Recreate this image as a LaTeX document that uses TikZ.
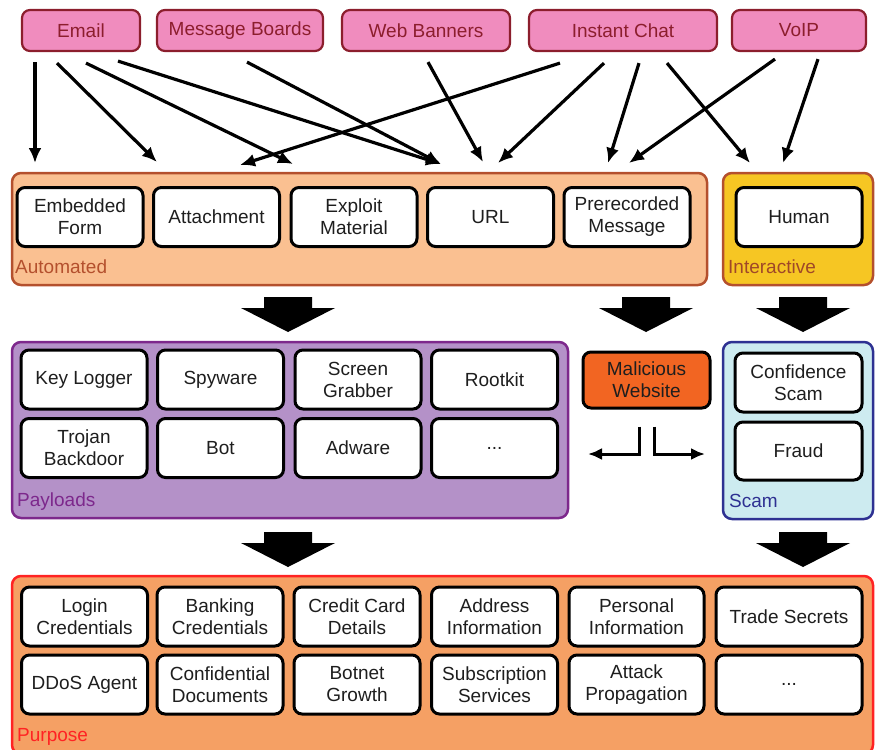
\documentclass[tikz,border=0pt]{standalone}
\usepackage{fontspec}
\setmainfont{Liberation Sans}
\usetikzlibrary{arrows.meta}
\definecolor{srcfill}{RGB}{240,140,190}
\definecolor{srcline}{RGB}{140,30,45}
\definecolor{autofill}{RGB}{250,192,145}
\definecolor{autoline}{RGB}{180,80,45}
\definecolor{interfill}{RGB}{246,198,35}
\definecolor{intertext}{RGB}{160,72,40}
\definecolor{payfill}{RGB}{180,145,200}
\definecolor{payline}{RGB}{125,40,140}
\definecolor{scamfill}{RGB}{205,235,240}
\definecolor{scamline}{RGB}{46,49,146}
\definecolor{purpfill}{RGB}{245,160,100}
\definecolor{purpline}{RGB}{255,35,35}
\definecolor{malfill}{RGB}{242,101,34}
\definecolor{itemtext}{RGB}{30,30,30}
\tikzset{
source/.style={draw=srcline, fill=srcfill, text=srcline, line width=2.2pt,
  rounded corners=8pt, minimum height=41pt, inner sep=0pt},
group/.style={line width=2.5pt, rounded corners=9pt, inner sep=0pt},
grouplabel/.style={anchor=base west, inner sep=0pt},
item/.style={draw=black, fill=white, text=itemtext, line width=3pt,
  rounded corners=8pt, minimum width=126pt, minimum height=59pt,
  inner sep=0pt, align=center},
feed/.style={line width=3.2pt, -{Latex[length=15pt,width=13pt]}},
branch/.style={line width=3pt, -{Latex[length=14pt,width=12pt]}},
bigdown/.pic={
  \fill (-24,0) -- (24,0) -- (24,11) -- (47,11) -- (0,35) -- (-47,11) -- (-24,11) -- cycle;
  }
}
\begin{document}
\begin{tikzpicture}[x=1pt, y=-1pt, font=\fontsize{19}{22}\selectfont]
\useasboundingbox (0,0) rectangle (879,750);
% channels
\node[source, minimum width=118pt] (email) at (81,30.5) {Email};
\node[source, minimum width=166pt] (boards) at (240,30.5) {Message Boards};
\node[source, minimum width=168pt] (banners) at (426,30.5) {Web Banners};
\node[source, minimum width=188pt] (chat) at (623,30.5) {Instant Chat};
\node[source, minimum width=134pt] (voip) at (799,30.5) {VoIP};

% groups
\node[group, draw=autoline, fill=autofill, minimum width=695pt, minimum height=112pt] (automated) at (359.5,229) {};
\node[group, draw=autoline, fill=interfill, minimum width=150pt, minimum height=112pt] (interactive) at (798,229) {};
\node[group, draw=payline, fill=payfill, minimum width=556pt, minimum height=176pt] (payloads) at (290,430) {};
\node[group, draw=scamline, fill=scamfill, minimum width=150pt, minimum height=177pt] (scam) at (798,430.5) {};
\node[group, draw=purpline, fill=purpfill, minimum width=861pt, minimum height=178pt] (purpose) at (442.5,665) {};
\node[grouplabel, text=autoline] (autotxt) at (15,273) {Automated};
\node[grouplabel, text=intertext] (intertxt) at (728,273) {Interactive};
\node[grouplabel, text=payline] (paytxt) at (17,506) {Payloads};
\node[grouplabel, text=scamline] (scamtxt) at (729,507) {Scam};
\node[grouplabel, text=purpline] (purptxt) at (17,741) {Purpose};

% vectors
\node[item] (form) at (80,217) {Embedded\\Form};
\node[item] (attach) at (216.5,217) {Attachment};
\node[item] (exploit) at (354,217) {Exploit\\Material};
\node[item] (url) at (490.5,217) {URL};
\node[item] (prerec) at (627,217) {Prerecorded\\Message};
\node[item] (human) at (799,217) {Human};

% payloads
\node[item] (keylog) at (84,379.5) {Key Logger};
\node[item] (spyware) at (220.5,379.5) {Spyware};
\node[item] (screen) at (358,379.5) {Screen\\Grabber};
\node[item] (rootkit) at (494.5,379.5) {Rootkit};
\node[item] (trojan) at (84,448) {Trojan\\Backdoor};
\node[item] (bot) at (220.5,448) {Bot};
\node[item] (adware) at (358,448) {Adware};
\node[item] (paymore) at (494.5,448) {...};

\node[item, fill=malfill, minimum width=127pt, minimum height=56pt] (malicious) at (646.5,380) {Malicious\\Website};
\node[item, minimum width=127pt] (confidence) at (798.5,382.5) {Confidence\\Scam};
\node[item, minimum width=127pt, minimum height=58pt] (fraud) at (798.5,451) {Fraud};

% purposes
\node[item] (login) at (84.5,616.5) {Login\\Credentials};
\node[item] (banking) at (220,616.5) {Banking\\Credentials};
\node[item] (credit) at (357,616.5) {Credit Card\\Details};
\node[item] (address) at (494.5,616.5) {Address\\Information};
\node[item, minimum width=135pt] (personal) at (636.5,616.5) {Personal\\Information};
\node[item, minimum width=146pt] (trade) at (789,616.5) {Trade Secrets};
\node[item] (ddos) at (84.5,684.5) {DDoS Agent};
\node[item] (docs) at (220,684.5) {Confidential\\Documents};
\node[item] (botnet) at (357,684.5) {Botnet\\Growth};
\node[item] (subscr) at (494.5,684.5) {Subscription\\Services};
\node[item, minimum width=135pt] (attack) at (636.5,684.5) {Attack\\Propagation};
\node[item, minimum width=146pt] (purpmore) at (789,684.5) {...};

% channel -> vector
\draw[feed] ([xshift=-46pt,yshift=-10pt]email.south) -- ([xshift=-45pt,yshift=23pt]form.north);
\draw[feed] ([xshift=-24pt,yshift=-11pt]email.south) -- ([xshift=-59.5pt,yshift=24pt]attach.north);
\draw[feed] ([xshift=5pt,yshift=-11pt]email.south) -- ([xshift=-61pt,yshift=22pt]exploit.north);
\draw[feed] ([xshift=37pt,yshift=-9pt]email.south) -- ([xshift=-49.5pt,yshift=22pt]url.north);
\draw[feed] ([xshift=7pt,yshift=-10pt]boards.south) -- ([xshift=-49.5pt,yshift=22pt]url.north);
\draw[feed] ([xshift=2pt,yshift=-10pt]banners.south) -- ([xshift=-7.5pt,yshift=24pt]url.north);
\draw[feed] ([xshift=-63pt,yshift=-11pt]chat.south) -- ([xshift=23.5pt,yshift=21pt]attach.north);
\draw[feed] ([xshift=-19pt,yshift=-11pt]chat.south) -- ([xshift=7.5pt,yshift=23pt]url.north);
\draw[feed] ([xshift=16pt,yshift=-11pt]chat.south) -- ([xshift=-19pt,yshift=23pt]prerec.north);
\draw[feed] ([xshift=44pt,yshift=-11pt]chat.south) -- ([xshift=-49pt,yshift=23pt]human.north);
\draw[feed] ([xshift=-24pt,yshift=-7pt]voip.south) -- ([xshift=2pt,yshift=23pt]prerec.north);
\draw[feed] ([xshift=19pt,yshift=-7pt]voip.south) -- ([xshift=-16pt,yshift=23pt]human.north);

% big arrows
\pic at (288,297) {bigdown};
\pic at (646,297) {bigdown};
\pic at (803,297) {bigdown};
\pic at (288,532) {bigdown};
\pic at (803,532) {bigdown};

% website -> payloads / scam
\coordinate (topay) at (588,454);
\coordinate (toscam) at (705,454);
\draw[branch] ([xshift=-7.5pt,yshift=-17pt]malicious.south) |- (topay);
\draw[branch] ([xshift=7.5pt,yshift=-17pt]malicious.south) |- (toscam);
\end{tikzpicture}
\end{document}
